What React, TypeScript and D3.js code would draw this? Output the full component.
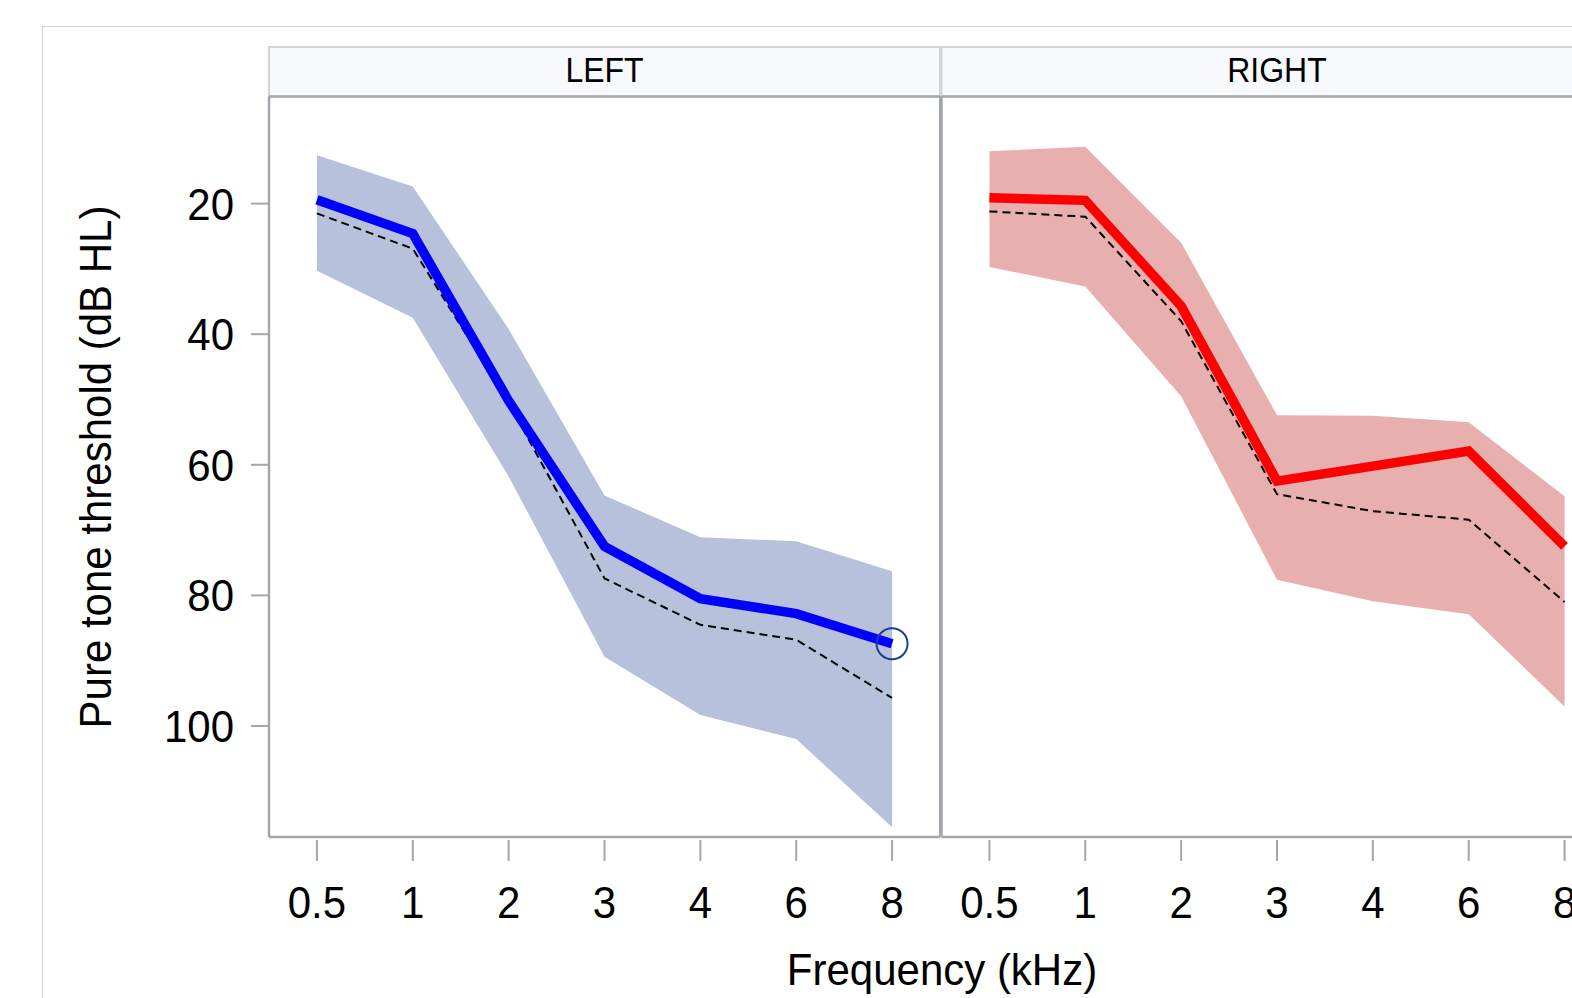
import * as d3 from "d3";
import { useEffect, useRef } from "react";

const width = 1572;
const height = 998;

const freqs = ["0.5", "1", "2", "3", "4", "6", "8"];
const yTicks = [20, 40, 60, 80, 100];

// left ear
const leftMean = [19.4, 24.6, 50.2, 72.5, 80.5, 82.8, 87.4];
const leftRef = [21.5, 26.9, 50.5, 77.4, 84.5, 86.8, 95.7];
const leftUpper = [12.6, 17.4, 39.2, 64.7, 71.1, 71.7, 76.3];
const leftLower = [30.3, 37.5, 61.8, 89.4, 98.3, 102, 115.5];

// right ear
const rightMean = [19.1, 19.5, 35.7, 62.5, 60.2, 57.9, 72.5];
const rightRef = [21.2, 22, 38, 64.5, 67.1, 68.4, 81];
const rightUpper = [12, 11.3, 26, 52.4, 52.5, 53.5, 64.8];
const rightLower = [29.7, 32.7, 49.5, 77.6, 80.9, 82.9, 97];

const panels = [
  { label: "LEFT", x0: 269, mean: leftMean, ref: leftRef, upper: leftUpper, lower: leftLower, line: "#0000ff", band: "#b8c1dc", marker: true },
  { label: "RIGHT", x0: 941.5, mean: rightMean, ref: rightRef, upper: rightUpper, lower: rightLower, line: "#ff0000", band: "#e8afaf", marker: false },
];

const panelW = 671;
const panelTop = 96.5;
const panelBottom = 837;
const font = "'Liberation Sans', Arial, sans-serif";
const axisGray = "#a3a7ab";
const stretch = 1.07;

export default function App() {
  const svgRef = useRef<SVGSVGElement>(null);

  useEffect(() => {
    const svg = d3.select(svgRef.current);
    svg.selectAll("*").remove();

    const y = d3.scaleLinear().domain([3.6, 117]).range([panelTop, panelBottom]);

    const label = (sel: any, x: number, yy: number, txt: string | number, anchor: string, size: number, rot = 0) =>
      sel.append("text")
        .attr("transform", `translate(${x},${yy}) rotate(${rot}) scale(1,${stretch})`)
        .attr("text-anchor", anchor)
        .style("font-family", font).style("font-size", `${size}px`)
        .attr("fill", "#000").text(txt);

    // outer frame
    svg.append("line").attr("x1", 42).attr("x2", width).attr("y1", 26.5).attr("y2", 26.5)
      .attr("stroke", "#d4d4d4").attr("stroke-width", 1.2);
    svg.append("line").attr("x1", 42.5).attr("x2", 42.5).attr("y1", 26).attr("y2", height)
      .attr("stroke", "#d4d4d4").attr("stroke-width", 1.2);

    panels.forEach((p) => {
      const x = d3.scalePoint<string>().domain(freqs).range([p.x0, p.x0 + panelW]).padding(0.5);
      const g = svg.append("g");

      // strip header
      g.append("rect").attr("x", p.x0).attr("y", 47).attr("width", panelW).attr("height", 49.5)
        .attr("fill", "#f8f9fd").attr("stroke", "#d2d4d6").attr("stroke-width", 2);
      label(g, p.x0 + panelW / 2, 82, p.label, "middle", 32);

      const rows = freqs.map((f, i) => ({ f, mean: p.mean[i], ref: p.ref[i], up: p.upper[i], lo: p.lower[i] }));

      const area = d3.area<typeof rows[0]>()
        .x((d) => x(d.f)!)
        .y0((d) => y(d.up))
        .y1((d) => y(d.lo));
      g.append("path").datum(rows).attr("d", area).attr("fill", p.band);

      const refLine = d3.line<typeof rows[0]>().x((d) => x(d.f)!).y((d) => y(d.ref));
      g.append("path").datum(rows).attr("d", refLine).attr("fill", "none")
        .attr("stroke", "#000").attr("stroke-width", 2).attr("stroke-dasharray", "8,5");

      const meanLine = d3.line<typeof rows[0]>().x((d) => x(d.f)!).y((d) => y(d.mean));
      g.append("path").datum(rows).attr("d", meanLine).attr("fill", "none")
        .attr("stroke", p.line).attr("stroke-width", 9.5).attr("stroke-linejoin", "miter");

      if (p.marker) {
        const last = rows[rows.length - 1];
        g.append("circle").attr("cx", x(last.f)!).attr("cy", y(last.mean)).attr("r", 15.5)
          .attr("fill", "none").attr("stroke", "#1b3f96").attr("stroke-width", 2);
      }

      // panel frame
      g.append("line").attr("x1", p.x0).attr("x2", p.x0).attr("y1", panelTop).attr("y2", panelBottom)
        .attr("stroke", axisGray).attr("stroke-width", 2.5);
      g.append("line").attr("x1", p.x0).attr("x2", p.x0 + panelW).attr("y1", panelBottom).attr("y2", panelBottom)
        .attr("stroke", axisGray).attr("stroke-width", 2.5);
      g.append("line").attr("x1", p.x0).attr("x2", p.x0 + panelW).attr("y1", panelTop).attr("y2", panelTop)
        .attr("stroke", axisGray).attr("stroke-width", 2.5);

      // x ticks
      freqs.forEach((f) => {
        g.append("line").attr("x1", x(f)!).attr("x2", x(f)!).attr("y1", 840).attr("y2", 861)
          .attr("stroke", axisGray).attr("stroke-width", 2);
        label(g, x(f)!, 918, f, "middle", 42);
      });
    });

    // divider between panels
    svg.append("line").attr("x1", 940.5).attr("x2", 940.5).attr("y1", panelTop).attr("y2", panelBottom)
      .attr("stroke", axisGray).attr("stroke-width", 3);

    // y axis
    yTicks.forEach((t) => {
      svg.append("line").attr("x1", 251).attr("x2", 269).attr("y1", y(t)).attr("y2", y(t))
        .attr("stroke", axisGray).attr("stroke-width", 2);
      label(svg, 234, y(t) + 16, t, "end", 42);
    });

    label(svg, 111, 467, "Pure tone threshold (dB HL)", "middle", 42, -90);
    label(svg, 942, 985, "Frequency (kHz)", "middle", 42);
  }, []);

  return (
    <div style={{ position: "absolute", left: 0, top: 0 }}>
      <svg ref={svgRef} width={width} height={height} style={{ display: "block", background: "#fff" }}></svg>
    </div>
  );
}
